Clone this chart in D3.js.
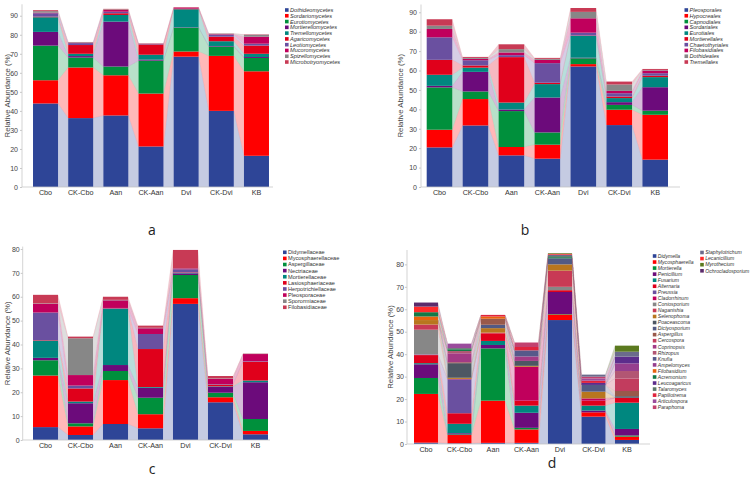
<!DOCTYPE html>
<html><head><meta charset="utf-8">
<script src="https://cdn.jsdelivr.net/npm/d3@7"></script>
<style>
html,body{margin:0;padding:0;background:#fff;}
svg{display:block;font-family:"Liberation Sans",Arial,sans-serif;}
</style></head>
<body>
<svg id="chart" width="751" height="479"></svg>
<script>
// ---------------- DATA ----------------
const samples = ["Cbo","CK-Cbo","Aan","CK-Aan","Dvi","CK-Dvi","KB"];

// panel a : class level (values per sample, in sample order)
const classNames = ["Dothideomycetes","Sordariomycetes","Eurotiomycetes","Mortierellomycetes","Tremellomycetes","Agaricomycetes","Leotiomycetes","Mucoromycetes","Spizellomycetes","Microbotryomycetes"];
const classValues = [
  [43.9, 36.2, 37.6, 21.3, 68.5, 40.0, 16.4],
  [12.2, 26.6, 21.1, 27.8,  2.7, 28.9, 44.4],
  [18.2,  5.2,  4.6, 17.3, 12.5,  4.9,  7.0],
  [ 7.2,  0.8, 23.6,  0.5,  0.2,  0.3,  0.5],
  [ 7.7,  1.2,  3.5,  2.6,  9.5,  2.5,  1.7],
  [ 0.3,  4.6,  0.9,  5.4,  0.2,  2.4,  4.3],
  [ 1.8,  1.0,  0.8,  0.3,  0.1,  1.0,  1.0],
  [ 0.3,  0.2,  0.9,  0.1,  0.6,  0.3,  3.7],
  [ 0.8,  0.3,  0.3,  0.1,  0.0,  0.3,  1.0],
  [ 0.5,  0.1,  0.3,  0.1,  0.2,  0.1,  0.2]
];

// panel b : order level
const orderNames = ["Pleosporales","Hypocreales","Capnodiales","Sordariales","Eurotiales","Mortierellales","Chaetothyriales","Filobasidiales","Dothideales","Tremellales"];
const orderValues = [
  [20.4, 31.7, 16.3, 14.6, 62.1, 31.9, 14.1],
  [ 9.1, 13.6,  4.3,  7.2,  1.2,  7.9, 23.1],
  [21.8,  3.9, 18.5,  6.3,  3.0,  2.5,  2.1],
  [ 0.8, 10.1,  0.8, 18.0,  0.3,  1.4, 12.1],
  [ 5.7,  2.2,  3.6,  6.9, 11.2,  2.1,  5.2],
  [ 7.7,  1.1, 23.4,  0.7,  0.2,  0.8,  0.7],
  [11.6,  2.7,  1.0, 10.1,  1.5,  1.7,  1.3],
  [ 4.3,  0.7,  1.4,  1.7,  7.4,  1.2,  1.4],
  [ 1.7,  0.5,  1.7,  0.5,  3.3,  3.3,  0.3],
  [ 3.3,  0.5,  2.5,  0.5,  2.0,  1.5,  0.5]
];

// panel c : family level
const familyNames = ["Didymellaceae","Mycosphaerellaceae","Aspergillaceae","Nectriaceae","Mortierellaceae","Lasiosphaeriaceae","Herpotrichiellaceae","Pleosporaceae","Sporormiaceae","Filobasidiaceae"];
const familyValues = [
  [ 5.4,  2.1,  6.7,  4.9, 57.0, 15.8,  2.4],
  [21.6,  3.6, 18.4,  5.9,  2.4,  2.1,  1.4],
  [ 6.4,  1.3,  3.8,  6.9,  9.7,  1.9,  5.0],
  [ 1.0,  8.4,  2.5,  4.2,  0.7,  2.5, 15.4],
  [ 7.2,  0.7, 23.5,  0.3,  0.2,  0.2,  0.7],
  [ 0.2,  5.5,  0.2, 15.9,  0.2,  0.7,  7.9],
  [11.6,  1.2,  0.2,  6.3,  1.3,  0.2,  0.2],
  [ 3.6,  4.4,  3.2,  2.4,  0.4,  2.2,  3.0],
  [ 0.2, 15.4,  0.2,  0.2,  0.1,  0.2,  0.1],
  [ 3.6,  0.7,  1.3,  0.9,  7.6,  1.0,  0.1]
];

// panel d : genus level
const genusNames = ["Didymella","Mycosphaerella","Mortierella","Penicillium","Fusarium","Alternaria","Preussia","Cladorrhinum","Coniosporium","Naganishia","Selenophoma","Poaceascoma","Dictyosporium","Aspergillus","Cercospora","Coprinopsis","Rhizopus","Knufia","Ampelomyces","Filobasidium","Acremonium","Leucoagaricus","Talaromyces","Papiliotrema","Articulospora","Paraphoma","Staphylotrichum","Lecanicillium","Myrothecium","Ochrocladosporium"];
const genusValues = [
  [ 0.6,  0.3,  0.5,  0.5, 55.2, 12.2,  1.8],
  [21.7,  3.7, 18.8,  6.0,  2.5,  1.9,  1.5],
  [ 7.1,  0.3, 23.3,  0.7,  0.2,  0.0,  0.5],
  [ 6.1,  0.5,  1.5,  6.7,  9.8,  0.8,  2.9],
  [ 0.5,  4.2,  1.8,  3.2,  0.0,  2.2, 11.7],
  [ 3.6,  4.7,  3.4,  2.2,  0.8,  2.2,  2.2],
  [ 0.2, 15.1,  0.0,  0.0,  0.0,  0.0,  0.0],
  [ 0.1,  0.2,  0.0, 15.1,  0.0,  1.0,  0.0],
  [11.0,  0.0,  0.0,  0.0,  1.5,  0.0,  0.0],
  [ 2.3,  0.0,  0.3,  0.0,  7.2,  0.0,  0.0],
  [ 2.0,  0.5,  2.0,  0.4,  2.8,  3.0,  0.0],
  [ 0.0,  6.5,  0.0,  2.2,  0.0,  0.0,  0.7],
  [ 0.0,  0.0,  1.5,  0.0,  2.7,  3.0,  0.0],
  [ 0.0,  0.4,  2.7,  0.0,  0.0,  0.0,  2.3],
  [ 0.0,  0.0,  0.0,  0.0,  0.0,  0.0,  5.6],
  [ 0.0,  4.0,  0.0,  2.0,  0.0,  0.0,  0.0],
  [ 0.0,  1.0,  0.0,  0.0,  0.0,  0.0,  3.3],
  [ 0.0,  0.0,  0.0,  2.7,  0.0,  0.0,  0.0],
  [ 0.0,  0.0,  0.0,  0.0,  0.0,  0.0,  3.4],
  [ 1.6,  0.0,  1.0,  0.0,  0.0,  0.0,  0.0],
  [ 1.9,  0.8,  0.0,  0.0,  0.5,  0.0,  0.0],
  [ 0.0,  0.0,  0.0,  0.0,  0.0,  0.9,  3.0],
  [ 0.0,  0.5,  0.0,  0.0,  0.5,  0.0,  0.0],
  [ 0.0,  0.0,  0.7,  1.5,  0.0,  1.0,  0.0],
  [ 0.0,  2.0,  0.0,  0.0,  0.0,  1.0,  0.0],
  [ 0.0,  0.0,  0.0,  2.0,  0.0,  0.8,  0.0],
  [ 0.0,  0.0,  0.0,  0.0,  0.6,  0.9,  2.2],
  [ 2.5,  0.0,  0.0,  0.0,  0.4,  0.0,  0.0],
  [ 0.0,  0.0,  0.0,  0.0,  0.3,  0.0,  2.7],
  [ 1.8,  0.0,  0.0,  0.0,  0.0,  0.0,  0.0]
];

const ticksAB = [0,10,20,30,40,50,60,70,80,90];
const ticksCD = [0,10,20,30,40,50,60,70,80];
const panelLetters = ["a","b","c","d"];

// ---------------- STYLE ----------------
const palette = ["#2e4597","#ff0000","#00903c","#6c0b7b","#00877f","#e0001b","#6a50a0","#c0005c","#878787","#c83a55",
  "#b8761e","#4d5763","#525a84","#99594a","#c23c5e","#a33a85","#b25673","#56598a","#963f8e","#e8620e",
  "#137a47","#5c2d8c","#5b7768","#e0233d","#9a4c9c","#c2416f","#6b6b8c","#ff2b2b","#5b7a1f","#5b2b6b"];

const panels = [
  {names:classNames, values:classValues, ticks:ticksAB, ymax:96, yBase:187, yTop:4.3,
   bx0:29.5, bx1:272.5, pi:0.289, axX:22, axXEnd:273, tickPad:2, titleX:7.5,
   legX:285, legY:10, legDy:5.78, legFont:5.6, italic:true, cols:[10],
   letter:{x:152,y:235}},
  {names:orderNames, values:orderValues, ticks:ticksAB, ymax:94, yBase:187, yTop:4.5,
   bx0:423.1, bx1:671.6, pi:0.288, axX:421, axXEnd:680, tickPad:2, titleX:400,
   legX:684.5, legY:10, legDy:5.78, legFont:5.6, italic:true, cols:[10],
   letter:{x:525,y:235}},
  {names:familyNames, values:familyValues, ticks:ticksCD, ymax:81, yBase:440, yTop:246.6,
   bx0:29.5, bx1:271.5, pi:0.286, axX:22.7, axXEnd:270, tickPad:1, titleX:7,
   legX:283, legY:252.3, legDy:6.11, legFont:5.6, italic:false, cols:[10],
   letter:{x:152,y:474}},
  {names:genusNames, values:genusValues, ticks:ticksCD, ymax:86.4, yBase:444, yTop:250,
   bx0:410.65, bx1:642.35, pi:0.284, axX:407, axXEnd:650, tickPad:1, titleX:390,
   legX:652.8, legY:256, legDy:6.05, legFont:5.1, italic:true, cols:[26,4], col2X:700.2, col2Y:252.5, col2Dy:6.1,
   letter:{x:552,y:468}}
];

const svg = d3.select("#chart");

panels.forEach((cfg, pIdx) => {
  const g = svg.append("g");
  const x = d3.scaleBand().domain(samples).range([cfg.bx0, cfg.bx1])
    .paddingInner(cfg.pi).paddingOuter(0.1);
  const y = d3.scaleLinear().domain([0, cfg.ymax]).range([cfg.yBase, cfg.yTop]);
  const color = d3.scaleOrdinal().domain(cfg.names).range(palette);

  const rows = samples.map((s, i) => {
    const o = {sample: s};
    cfg.names.forEach((k, j) => o[k] = cfg.values[j][i]);
    return o;
  });
  const layers = d3.stack().keys(cfg.names)(rows);

  // connecting bands
  const line = d3.line();
  const bandG = g.append("g");
  layers.forEach(layer => {
    for (let i = 0; i < samples.length - 1; i++) {
      const a = layer[i], b = layer[i + 1];
      const xa = x(samples[i]) + x.bandwidth(), xb = x(samples[i + 1]);
      const pts = [[xa, y(a[1])], [xb, y(b[1])], [xb, y(b[0])], [xa, y(a[0])]];
      bandG.append("path").attr("d", line(pts) + "Z")
        .attr("fill", color(layer.key)).attr("fill-opacity", 0.28)
        .attr("stroke", color(layer.key)).attr("stroke-opacity", 0.12).attr("stroke-width", 0.3);
    }
  });

  // bars
  const barG = g.append("g");
  layers.forEach(layer => {
    barG.selectAll(null).data(layer).enter().append("rect")
      .attr("x", d => x(d.data.sample))
      .attr("width", x.bandwidth())
      .attr("y", d => y(d[1]))
      .attr("height", d => Math.max(0, y(d[0]) - y(d[1])))
      .attr("fill", color(layer.key));
  });

  // axes
  g.append("line").attr("x1", cfg.axX).attr("x2", cfg.axX)
    .attr("y1", y(cfg.ymax)).attr("y2", y(0)).attr("stroke", "#c8c8c8").attr("stroke-width", 0.8);
  g.append("line").attr("x1", cfg.axX).attr("x2", cfg.axXEnd)
    .attr("y1", y(0)).attr("y2", y(0)).attr("stroke", "#c8c8c8").attr("stroke-width", 0.8);

  const yAxis = d3.axisLeft(y).tickValues(cfg.ticks).tickSize(2).tickPadding(cfg.tickPad);
  const ya = g.append("g").attr("transform", `translate(${cfg.axX},0)`).call(yAxis);
  ya.select(".domain").remove();
  ya.selectAll(".tick line").attr("stroke", "#c8c8c8");
  ya.selectAll("text").attr("font-size", 7).attr("fill", "#444").attr("font-family", "Liberation Sans, Arial, sans-serif");

  const xAxis = d3.axisBottom(x).tickSize(0).tickPadding(3);
  const xa = g.append("g").attr("transform", `translate(0,${y(0)})`).call(xAxis);
  xa.select(".domain").remove();
  xa.selectAll("text").attr("font-size", 7.2).attr("fill", "#333").attr("font-family", "Liberation Sans, Arial, sans-serif");

  // y title
  g.append("text")
    .attr("transform", `translate(${cfg.titleX},${(y(cfg.ymax) + y(0)) / 2}) rotate(-90)`)
    .attr("text-anchor", "middle").attr("dy", "0.35em")
    .attr("font-size", 7.8).attr("fill", "#444")
    .text("Relative Abundance (%)");

  // legend
  const leg = g.append("g");
  cfg.names.forEach((n, j) => {
    let lx, ly;
    if (j < cfg.cols[0]) { lx = cfg.legX; ly = cfg.legY + j * cfg.legDy; }
    else { lx = cfg.col2X; ly = cfg.col2Y + (j - cfg.cols[0]) * cfg.col2Dy; }
    leg.append("rect").attr("x", lx).attr("y", ly - 1.8).attr("width", 3.6).attr("height", 3.6)
      .attr("fill", color(n));
    leg.append("text").attr("x", lx + 5).attr("y", ly).attr("dy", "0.35em")
      .attr("font-size", cfg.legFont).attr("fill", "#333")
      .attr("font-style", cfg.italic ? "italic" : "normal").text(n);
  });

  // panel letter
  g.append("text").attr("x", cfg.letter.x).attr("y", cfg.letter.y)
    .attr("text-anchor", "middle").attr("font-size", 14)
    .attr("font-family", "Open Sans, Liberation Sans, sans-serif").attr("fill", "#222")
    .text(panelLetters[pIdx]);
});
</script>
</body></html>
